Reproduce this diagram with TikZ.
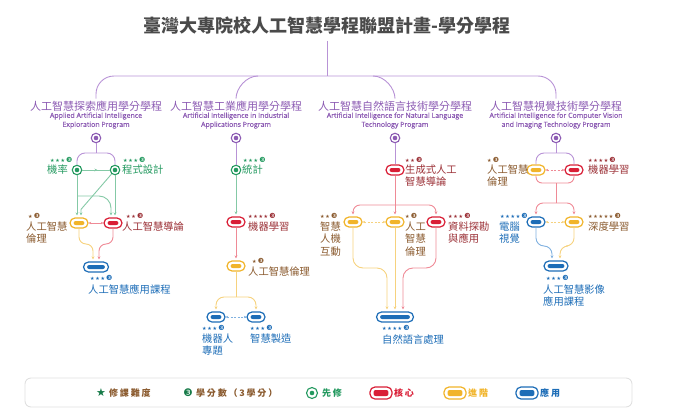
\documentclass[tikz,border=0pt]{standalone}
\usepackage{fontspec}
\setmainfont{Noto Sans CJK TC}
\newfontfamily\engfont{Open Sans}[FakeBold=0.6]
\newfontfamily\symfont{DejaVu Sans}
\usetikzlibrary{arrows.meta,calc,decorations.markings}

\definecolor{ppl}{HTML}{8C5BB3}
\definecolor{pplL}{HTML}{B893D6}
\definecolor{grn}{HTML}{23995F}
\definecolor{grnL}{HTML}{84C9A6}
\definecolor{crd}{HTML}{D91E36}
\definecolor{crdL}{HTML}{EF8A96}
\definecolor{mrn}{HTML}{9B3036}
\definecolor{ylw}{HTML}{F1B42A}
\definecolor{ylwL}{HTML}{F6D27E}
\definecolor{brn}{HTML}{8A5A2E}
\definecolor{blu}{HTML}{1D6DB7}
\definecolor{bluL}{HTML}{80B1E0}
\definecolor{ttl}{HTML}{4A4A4A}
\definecolor{lgs}{HTML}{167A48}

\newcommand{\diff}[1]{{\symfont\fontsize{5}{5}\selectfont\foreach\k in {1,...,#1}{★\kern0.7pt}\kern0.5pt\fontsize{7}{7}\selectfont ❸}}

\begin{document}
\begin{tikzpicture}[x=1pt, y=-1pt,
  pline/.style={draw=pplL, line width=0.9pt},
  gline/.style={draw=grnL, line width=0.9pt},
  rline/.style={draw=crdL, line width=0.9pt},
  yline/.style={draw=ylwL, line width=0.9pt},
  bline/.style={draw=bluL, line width=0.9pt},
  tip/.style={-{Stealth[length=3pt,width=3pt]}},
  both/.style={{Stealth[length=2.6pt,width=2.6pt]}-{Stealth[length=2.6pt,width=2.6pt]}},
  dsh/.style={dash pattern=on 2pt off 1.5pt},
  midtip/.style={postaction={decorate}, decoration={markings, mark=at position 0.55 with {\arrow{Stealth[length=3pt,width=3pt]}}}},
  pill/.style={draw=#1, fill=white, line width=1.2pt, rounded corners=5pt, minimum width=18pt, minimum height=10pt, inner sep=0pt,
    path picture={\fill[#1, rounded corners=2pt] ([shift={(3.6pt,3pt)}]path picture bounding box.south west) rectangle ([shift={(-3.6pt,-3pt)}]path picture bounding box.north east);}},
  ring/.style={circle, draw=#1, fill=white, line width=1.1pt, minimum size=9.5pt, inner sep=0pt,
    path picture={\fill[#1] (path picture bounding box.center) circle (2.3pt);}},
  ptitle/.style={text=ppl, font=\fontsize{11}{12}\selectfont, inner sep=0pt},
  pengl/.style={text=ppl, font=\engfont\fontsize{7}{9}\selectfont, align=center, inner sep=0pt},
  lbl/.style={inner sep=0pt, align=left, font=\fontsize{10.3}{12.5}\selectfont},
  lv/.style={inner sep=0pt, anchor=west},
  lgt/.style={inner sep=0pt, anchor=west, font=\fontsize{9}{9}\selectfont\bfseries\addfontfeature{LetterSpace=20}}]
\useasboundingbox (0,0) rectangle (700,412);

\node[font=\fontsize{18}{18}\selectfont\bfseries, text=ttl, inner sep=0pt] (ttl) at (327,26) {臺灣大專院校人工智慧學程聯盟計畫-學分學程};

\node[ptitle] (pt1) at (96,106) {人工智慧探索應用學分學程};
\node[ptitle] (pt2) at (236,106) {人工智慧工業應用學分學程};
\node[ptitle] (pt3) at (395,106) {人工智慧自然語言技術學分學程};
\node[ptitle] (pt4) at (556,106) {人工智慧視覺技術學分學程};
\node[pengl] (pe1) at (96,120.5) {Applied Artificial Intelligence\\Exploration Program};
\node[pengl] (pe2) at (236,120.5) {Artificial Intelligence in Industrial\\Applications Program};
\node[pengl] (pe3) at (395,120.5) {Artificial Intelligence for Natural Language\\Technology Program};
\node[pengl] (pe4) at (556,120.5) {Artificial Intelligence for Computer Vision\\and Imaging Technology Program};

\coordinate (hub) at (327,76);
\draw[pline] ([yshift=-6pt]ttl.south) -- (hub);
\draw[pline, rounded corners=18pt, shorten <=2pt, shorten >=2pt] (pt1.north) |- (hub) -| (pt4.north);
\draw[pline, shorten >=2pt] ($(pt2.north |- hub)+(22,0)$) .. controls +(-12,0) and +(0,-12) .. (pt2.north);
\draw[pline, shorten >=2pt] ($(pt3.north |- hub)+(-22,0)$) .. controls +(12,0) and +(0,-12) .. (pt3.north);

\node[ring=ppl] (pn1) at (96,138) {};
\node[ring=ppl] (pn2) at (236,138) {};
\node[ring=ppl] (pn3) at (395,138) {};
\node[ring=ppl] (pn4) at (556,138) {};

\node[ring=grn] (g1) at (77,170) {};
\node[ring=grn] (g2) at (115,170) {};
\node[pill=ylw] (y1) at (79,223) {};
\node[pill=crd] (r1) at (113,223) {};
\node[pill=blu, minimum width=25pt] (b1) at (96,267) {};
\coordinate (s1) at (96,153);
\coordinate (k1) at (77,196);
\coordinate (m1a) at (93,244);
\coordinate (m1b) at (99,244);
\draw[pline] (pn1) -- (s1);
\draw[pline, rounded corners=8pt] (g1) |- (s1) -| (g2);
\draw[gline, midtip] (g1) -- (g2);
\draw[gline, tip, shorten >=2pt] (g1) -- (g1 |- y1.north);
\draw[gline, tip, rounded corners=12pt, shorten >=2pt] (k1) -| ([xshift=-2pt]r1.north);
\draw[gline, tip, shorten >=2pt] (g2) -- (g2 |- r1.north);
\draw[gline, tip, shorten >=2pt] (g2) -- ([shift={(2pt,8pt)}]y1.north) -- ([xshift=2pt]y1.north);
\draw[rline, both] (y1) -- (r1);
\draw[yline, tip, rounded corners=7pt, shorten >=2pt] (y1) |- (m1a) -- ([xshift=-3pt]b1.north);
\draw[rline, tip, rounded corners=7pt, shorten >=2pt] (r1) |- (m1b) -- ([xshift=3pt]b1.north);
\node[lv, text=grn] (g1v) at (50,160) {\diff{3}};
\node[lbl, text=grn, anchor=west] (g1t) at (47,170) {機率};
\node[lv, text=grn] (g2v) at (123,160) {\diff{3}};
\node[lbl, text=grn, anchor=west] (g2t) at (122,170) {程式設計};
\node[lv, text=brn] (y1v) at (28,216) {\diff{1}};
\node[lbl, text=brn, anchor=north west] (y1t) at (26,221.5) {人工智慧\\倫理};
\node[lv, text=mrn] (r1v) at (126,216) {\diff{2}};
\node[lbl, text=mrn, anchor=west] (r1t) at (122,227) {人工智慧導論};
\node[lv, text=blu] (b1v) at (90,278) {\diff{3}};
\node[lbl, text=blu, anchor=west] (b1t) at (88,290) {人工智慧應用課程};

\node[ring=grn] (g3) at (236,170) {};
\node[pill=crd] (r2) at (236,222) {};
\node[pill=ylw] (y2) at (236,266) {};
\node[pill=blu] (b2) at (216,317) {};
\node[pill=blu] (b3) at (256,317) {};
\coordinate (s2) at (236,297);
\draw[pline] (pn2) -- (g3);
\draw[gline, tip, shorten >=2pt] (g3) -- (r2.north);
\draw[rline, tip, shorten >=2pt] (r2) -- (y2.north);
\draw[yline] (y2) -- (s2);
\draw[yline, tip, rounded corners=8pt, shorten >=2pt] (s2) -| (b2.north);
\draw[yline, tip, rounded corners=8pt, shorten >=2pt] (s2) -| (b3.north);
\draw[bline, dsh, both] (b2) -- (b3);
\node[lv, text=grn] (g3v) at (243,160) {\diff{3}};
\node[lbl, text=grn, anchor=west] (g3t) at (242,170) {統計};
\node[lv, text=mrn] (r2v) at (248,216) {\diff{4}};
\node[lbl, text=mrn, anchor=west] (r2t) at (248,227) {機器學習};
\node[lv, text=brn] (y2v) at (252,261) {\diff{1}};
\node[lbl, text=brn, anchor=west] (y2t) at (248,272) {人工智慧倫理};
\node[lv, text=blu] (b2v) at (202,328) {\diff{3}};
\node[lbl, text=blu, anchor=north west] (b2t) at (202,333.5) {機器人\\專題};
\node[lv, text=blu] (b3v) at (250,328) {\diff{3}};
\node[lbl, text=blu, anchor=west] (b3t) at (250,339) {智慧製造};

\node[pill=crd] (r3) at (395,170) {};
\node[pill=ylw] (y3) at (353,222) {};
\node[pill=ylw] (y4) at (395,222) {};
\node[pill=crd] (r4) at (436,222) {};
\node[pill=blu, minimum width=37pt] (b4) at (395,317) {};
\coordinate (s3) at (395,205);
\coordinate (m3a) at (387,268);
\coordinate (m3b) at (403,268);
\draw[pline] (pn3) -- (r3);
\draw[rline, tip, shorten >=2pt] (r3) -- (y4.north);
\draw[rline, tip, rounded corners=7pt, shorten >=2pt] (s3) -| (y3.north);
\draw[rline, tip, rounded corners=7pt, shorten >=2pt] (s3) -| (r4.north);
\draw[ylwL, line width=0.9pt, dsh, both] (y3) -- (y4);
\draw[yline, tip, rounded corners=10pt, shorten >=2pt] (y3) |- (m3a) -- ([xshift=-8pt]b4.north);
\draw[yline, tip, shorten >=2pt] (y4) -- (b4.north);
\draw[rline, tip, rounded corners=10pt, shorten >=2pt] (r4) |- (m3b) -- ([xshift=8pt]b4.north);
\node[lv, text=mrn] (r3v) at (405,160) {\diff{2}};
\node[lbl, text=mrn, anchor=north west] (r3t) at (405,164.5) {生成式人工\\智慧導論};
\node[lv, text=brn] (y3v) at (320,216) {\diff{2}};
\node[lbl, text=brn, anchor=north west] (y3t) at (320,221.5) {智慧\\人機\\互動};
\node[lv, text=brn] (y4v) at (405,216) {\diff{1}};
\node[lbl, text=brn, anchor=north west] (y4t) at (405,221.5) {人工\\智慧\\倫理};
\node[lv, text=mrn] (r4v) at (448,216) {\diff{3}};
\node[lbl, text=mrn, anchor=north west] (r4t) at (448,221.5) {資料探勘\\與應用};
\node[lv, text=blu] (b4v) at (382,328) {\diff{4}};
\node[lbl, text=blu, anchor=west] (b4t) at (382,340) {自然語言處理};

\node[pill=ylw] (y5) at (536,170) {};
\node[pill=crd] (r5) at (574,170) {};
\node[pill=blu] (b5) at (536,222) {};
\node[pill=ylw] (y6) at (574,222) {};
\node[pill=blu, minimum width=24pt] (b6) at (556,266) {};
\coordinate (s4) at (556,153);
\coordinate (s5) at (556,183);
\coordinate (s6) at (556,203);
\coordinate (m4a) at (552,246);
\coordinate (m4b) at (560,246);
\draw[pline] (pn4) -- (s4);
\draw[pline, rounded corners=8pt] (y5) |- (s4) -| (r5);
\draw[rline, dsh, both] (y5) -- (r5);
\draw[rline, rounded corners=6pt] (y5) |- (s5) -| (r5);
\draw[rline] (s5) -- (s6);
\draw[rline, tip, rounded corners=7pt, shorten >=2pt] (s6) -| (b5.north);
\draw[rline, tip, rounded corners=7pt, shorten >=2pt] (s6) -| (y6.north);
\draw[ylwL, line width=0.9pt, dsh, both] (b5) -- (y6);
\draw[bline, tip, rounded corners=8pt, shorten >=2pt] (b5) |- (m4a) -- ([xshift=-4pt]b6.north);
\draw[yline, tip, rounded corners=8pt, shorten >=2pt] (y6) |- (m4b) -- ([xshift=4pt]b6.north);
\node[lv, text=brn] (y5v) at (487,160) {\diff{1}};
\node[lbl, text=brn, anchor=north west] (y5t) at (487,164.5) {人工智慧\\倫理};
\node[lv, text=mrn] (r5v) at (588,160) {\diff{4}};
\node[lbl, text=mrn, anchor=west] (r5t) at (588,170) {機器學習};
\node[lv, text=blu] (b5v) at (500,216) {\diff{4}};
\node[lbl, text=blu, anchor=north west] (b5t) at (499,221.5) {電腦\\視覺};
\node[lv, text=brn] (y6v) at (588,216) {\diff{5}};
\node[lbl, text=brn, anchor=west] (y6t) at (588,227) {深度學習};
\node[lv, text=blu] (b6v) at (546,278) {\diff{3}};
\node[lbl, text=blu, anchor=north west] (b6t) at (543,284.5) {人工智慧影像\\應用課程};

\node[draw=black!12, line width=0.9pt, rounded corners=6pt, minimum width=607pt, minimum height=29pt, inner sep=0pt] (lgd) at (328.5,392.5) {};
\node[inner sep=0pt, text=lgs, font=\symfont\fontsize{11}{11}\selectfont] (k1s) at (101,393) {★};
\node[lgt, text=brn] (k1t) at (109,393) {修課難度};
\node[inner sep=0pt, text=lgs, font=\symfont\fontsize{10.5}{10.5}\selectfont] (k2s) at (188,393) {❸};
\node[lgt, text=brn] (k2t) at (196,393) {學分數（3學分）};
\node[ring=grn, minimum size=11pt] (k3s) at (312,393) {};
\node[lgt, text=grn] (k3t) at (322,393) {先修};
\node[pill=crd, minimum width=22pt, minimum height=12pt] (k4s) at (381,393) {};
\node[lgt, text=crd] (k4t) at (394,393) {核心};
\node[pill=ylw, minimum width=22pt, minimum height=12pt] (k5s) at (455,393) {};
\node[lgt, text=ylw] (k5t) at (468,393) {進階};
\node[pill=blu, minimum width=22pt, minimum height=12pt] (k6s) at (527,393) {};
\node[lgt, text=blu] (k6t) at (540,393) {應用};
\end{tikzpicture}
\end{document}
